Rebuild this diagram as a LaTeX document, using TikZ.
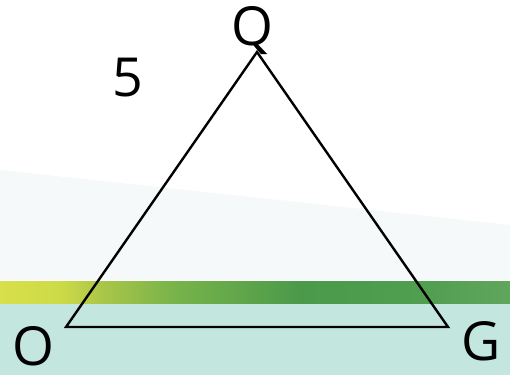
\documentclass[tikz,border=0pt]{standalone}
\usepackage{fontspec}
\setmainfont{Open Sans}
\definecolor{teal0}{HTML}{C3E7DE}
\definecolor{faint}{HTML}{F6F9FA}
\pgfdeclarehorizontalshading{band}{100bp}{
  color(0bp)=(rgb,255:red,216;green,224;blue,74);
  color(25bp)=(rgb,255:red,216;green,224;blue,74);
  color(31bp)=(rgb,255:red,205;green,218;blue,72);
  color(35bp)=(rgb,255:red,170;green,198;blue,72);
  color(41.7bp)=(rgb,255:red,122;green,180;blue,74);
  color(54.4bp)=(rgb,255:red,74;green,154;blue,74);
  color(66.2bp)=(rgb,255:red,80;green,158;blue,80);
  color(75bp)=(rgb,255:red,96;green,166;blue,92);
  color(100bp)=(rgb,255:red,96;green,166;blue,92)}
\tikzset{
  lbl/.style={font=\fontsize{54}{54}\selectfont, inner sep=0pt},
  edge/.style={draw=black, line width=2.4bp, line join=miter}
}
\begin{document}
\begin{tikzpicture}[x=1bp,y=1bp]
\useasboundingbox (0,0) rectangle (510,375);
\fill[white] (0,0) rectangle (510,375);
\fill[faint] (0,205) -- (510,150) -- (510,95) -- (0,95) -- cycle;
\fill[teal0] (0,0) rectangle (510,72);
\shade[shading=band] (0,72) rectangle (510,94);
\coordinate (q) at (257,323);
\coordinate (o) at (66,48);
\coordinate (g) at (448,48);
\draw[edge] (q) -- (o) -- (g) -- cycle;
\node[lbl] (lq) at (252,344) {Q};
\node[lbl] (l5) at (128,297) {5};
\node[lbl] (lo) at (33,29) {O};
\node[lbl] (lg) at (481,34) {G};
\end{tikzpicture}
\end{document}
